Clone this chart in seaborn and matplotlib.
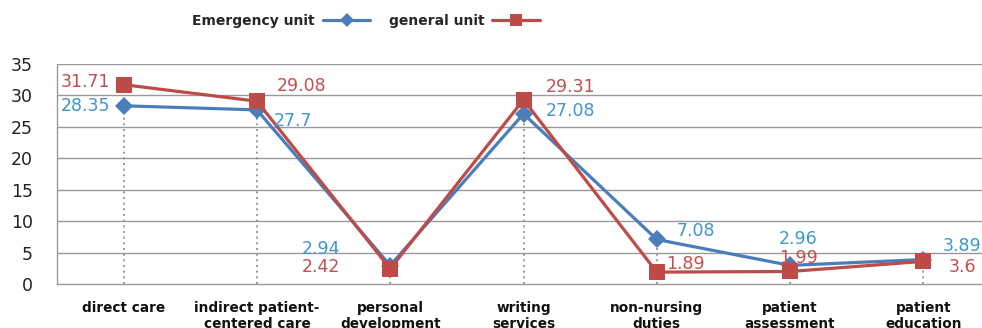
import matplotlib
matplotlib.use("Agg")
import matplotlib.pyplot as plt
import seaborn as sns
import pandas as pd
from matplotlib.lines import Line2D

categories = ["direct care", "indirect patient-\ncentered care", "personal\ndevelopment",
              "writing\nservices", "non-nursing\nduties", "patient\nassessment", "patient\neducation"]
emergency = [28.35, 27.7, 2.94, 27.08, 7.08, 2.96, 3.89]
general = [31.71, 29.08, 2.42, 29.31, 1.89, 1.99, 3.6]
series_names = ["Emergency unit", "general unit"]
y_ticks = [0, 5, 10, 15, 20, 25, 30, 35]

BLUE = "#4A7EBB"
RED = "#BE4B48"
BLUE_TXT = "#3E97C8"
RED_TXT = "#C0504D"
GRID = "#9a9a9a"

df = pd.DataFrame({
    "pos": list(range(len(categories))) * 2,
    "value": emergency + general,
    "series": [series_names[0]] * len(categories) + [series_names[1]] * len(categories),
})

sns.set_style("white")
plt.rcParams["font.family"] = ["DejaVu Sans"]

fig = plt.figure(figsize=(9.82, 3.28), dpi=100)
ax = fig.add_axes([57 / 982, 1 - 284 / 328, 933 / 982, 220 / 328])

# horizontal gridlines
for t in y_ticks[1:]:
    ax.axhline(t, color=GRID, lw=1.0, zorder=0)

# drop lines from the emergency series down to the axis
ax.vlines(range(len(categories)), 0, emergency, colors="#8a8a8a", linestyles=(0, (1.2, 2.2)),
          lw=1.2, zorder=1)

sns.lineplot(data=df, x="pos", y="value", hue="series", style="series",
             markers={series_names[0]: "D", series_names[1]: "s"},
             dashes=False, palette={series_names[0]: BLUE, series_names[1]: RED},
             linewidth=2.3, markersize=9, markeredgewidth=0, ax=ax, zorder=3,
             legend=False)
for line in ax.get_lines():
    if line.get_marker() == "s":
        line.set_markersize(11)

ax.set_xlim(-0.5, len(categories) - 0.5)
ax.set_ylim(0, 35)
ax.set_yticks(y_ticks)
ax.set_yticklabels([str(t) for t in y_ticks], fontsize=12.5, color="#222222")
ax.set_xticks(range(len(categories)))
ax.set_xticklabels(categories, fontsize=9.8, fontweight="bold", color="#111111",
                   linespacing=1.2, va="top")
ax.tick_params(axis="y", length=6.5, color=GRID, pad=11)
ax.tick_params(axis="x", length=0, pad=12)
ax.set_xlabel("")
ax.set_ylabel("")
for s in ["top", "right"]:
    ax.spines[s].set_visible(False)
for s in ["left", "bottom"]:
    ax.spines[s].set_color(GRID)
    ax.spines[s].set_linewidth(1.0)

# value labels: (dx, dy) offsets in points, horizontal alignment
blue_offsets = [(-10, 0, "right"), (12, -8, "left"), (-36, 12, "right"), (16, 2, "left"),
                (14, 6, "left"), (6, 19, "center"), (14, 10, "left")]
red_offsets = [(-10, 2, "right"), (14, 11, "left"), (-36, 1, "right"), (16, 9, "left"),
               (7, 6, "left"), (6, 10, "center"), (18, -4, "left")]
for i, v in enumerate(emergency):
    dx, dy, ha = blue_offsets[i]
    ax.annotate(f"{v:g}", (i, v), xytext=(dx, dy), textcoords="offset points",
                ha=ha, va="center", fontsize=12.5, color=BLUE_TXT, zorder=5)
for i, v in enumerate(general):
    dx, dy, ha = red_offsets[i]
    ax.annotate(f"{v:g}", (i, v), xytext=(dx, dy), textcoords="offset points",
                ha=ha, va="center", fontsize=12.5, color=RED_TXT, zorder=5)

# legend: text first, marker after
handles = [Line2D([], [], color=BLUE, marker="D", lw=2.3, markersize=7, markeredgewidth=0),
           Line2D([], [], color=RED, marker="s", lw=2.3, markersize=9, markeredgewidth=0)]
fig.legend(handles, series_names, loc="center", bbox_to_anchor=(366 / 982, 1 - 21 / 328),
           ncol=2, frameon=False, markerfirst=False, prop={"weight": "bold", "size": 10},
           handlelength=3.4, columnspacing=1.3, handletextpad=0.6)

fig.savefig("out.png", dpi=100)
